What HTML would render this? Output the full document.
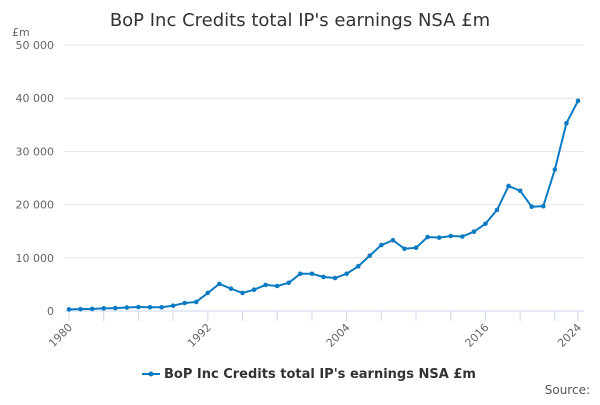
<!DOCTYPE html>
<html><head><meta charset="utf-8"><style>
body{margin:0;background:#fff;font-family:"Liberation Sans","DejaVu Sans",sans-serif}
svg text{font-family:"DejaVu Sans","Liberation Sans",sans-serif}
</style></head><body>
<svg id="c" width="600" height="400" xmlns="http://www.w3.org/2000/svg">
<text x="300" y="26" text-anchor="middle" font-size="18" fill="#333">BoP Inc Credits total IP's earnings NSA £m</text>
<text x="12" y="36" font-size="11" fill="#666">£m</text>
<g id="grid"></g><g id="xax"></g><g id="series"></g>
<g>
<line x1="142" y1="374" x2="160" y2="374" stroke="#0a7bc2" stroke-width="2"/>
<circle cx="151" cy="374" r="2.5" fill="#0a7bc2"/>
<text x="164" y="378" font-size="13" font-weight="bold" fill="#333">BoP Inc Credits total IP's earnings NSA £m</text>
</g>
<text x="590" y="394" text-anchor="end" font-size="12" fill="#555">Source:</text>
</svg>
<script>
const years=[1980,1981,1982,1983,1984,1985,1986,1987,1988,1989,1990,1991,1992,1993,1994,1995,1996,1997,1998,1999,2000,2001,2002,2003,2004,2005,2006,2007,2008,2009,2010,2011,2012,2013,2014,2015,2016,2017,2018,2019,2020,2021,2022,2023,2024];
const values=[300,350,400,500,550,650,750,700,700,1000,1500,1700,3400,5100,4200,3400,4000,4900,4700,5300,7000,7000,6400,6200,7000,8400,10400,12400,13300,11700,11900,13900,13800,14100,14000,14900,16400,19000,23500,22600,19600,19700,26600,35300,39500];
const yTicks=[0,10000,20000,30000,40000,50000];
const xLabels=[1980,1992,2004,2016,2024];
const NS="http://www.w3.org/2000/svg";
const x=v=>69+(v-1980)*(578-69)/44;
const y=v=>311-v*(311-45)/50000;
function mk(t,a,p){const e=document.createElementNS(NS,t);for(const k in a)e.setAttribute(k,a[k]);p.appendChild(e);return e;}
const g=document.getElementById('grid');
yTicks.forEach(t=>{
 const l=mk('line',{x1:64,x2:584,y1:y(t),y2:y(t),stroke:t===0?'#ccd6eb':'#e6e6e6','stroke-width':1},g);
 
 
 const tx=mk('text',{x:54,y:y(t)+4,'text-anchor':'end','font-size':11,fill:'#666'},g);
 tx.textContent=t===0?'0':t.toLocaleString('en').replace(/,/g,' ');
 
 
});
const xa=document.getElementById('xax');
for(let yr=1980;yr<=2024;yr+=3){mk('line',{x1:x(yr),x2:x(yr),y1:311,y2:321,stroke:'#ccd6eb'},xa);}
mk('line',{x1:x(2024),x2:x(2024),y1:311,y2:321,stroke:'#ccd6eb'},xa);
xLabels.forEach(v=>{
 const tx=mk('text',{x:x(v)+4,y:328,'text-anchor':'end','font-size':11,fill:'#666',transform:`rotate(-45 ${x(v)+4} 328)`},xa);
 tx.textContent=v;
 
 
});
const s=document.getElementById('series');
const p=mk('polyline',{points:years.map((yr,i)=>x(yr)+','+y(values[i])).join(' '),fill:'none',stroke:'#0a7bc2','stroke-width':2},s);


years.forEach((yr,i)=>{
 const c=mk('circle',{cx:x(yr),cy:y(values[i]),r:2.3,fill:'#0a7bc2'},s);
 
 
});
</script>
</body></html>
